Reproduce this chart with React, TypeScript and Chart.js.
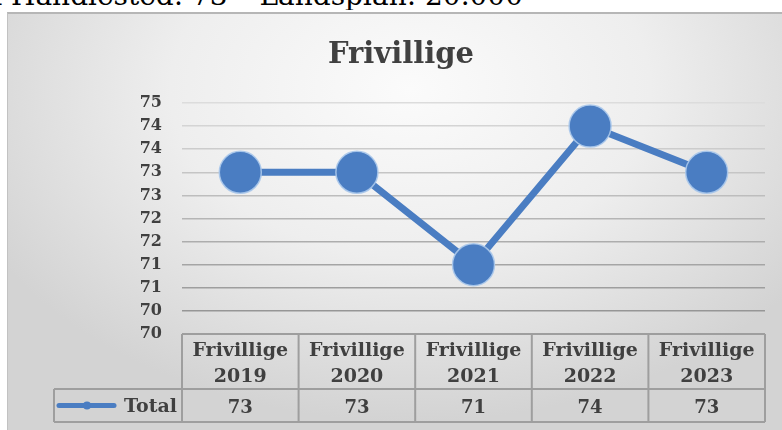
import React, { useEffect, useRef } from "react";
import { Chart, registerables } from "chart.js";

Chart.register(...registerables);

// ---- data ----
const headline = "Frivillige i Handlested: 73 – Landsplan: 20.000";
const chartTitle = "Frivillige";
const categoryPrefix = "Frivillige";
const years = ["2019", "2020", "2021", "2022", "2023"];
const seriesName = "Total";
const values = [73, 73, 71, 74, 73];
const yMin = 69.5;
const yMax = 74.5;
const yStep = 0.5;

const categories = years.map((y) => [categoryPrefix, y]);

// ---- styles ----
const BLUE = "#4a7dc2";
const TEXT = "#404040";
const FONT = "'DejaVu Serif', Georgia, serif";
const TABLE_LINE = "#9e9e9e";

const titlePlugin = {
  id: "titleText",
  afterDraw(chart: any) {
    const { ctx } = chart;
    ctx.save();
    ctx.font = `bold 29px ${FONT}`;
    ctx.fillStyle = TEXT;
    ctx.textAlign = "center";
    ctx.textBaseline = "alphabetic";
    ctx.fillText(chartTitle, 401, 63);
    ctx.restore();
  },
};

const tablePlugin = {
  id: "dataTable",
  afterDraw(chart: any) {
    const { ctx, chartArea } = chart;
    const xScale = chart.scales.x;
    const { left, right, bottom } = chartArea;
    const n = categories.length;
    const colW = (right - left) / n;
    const headTop = bottom;
    const headBot = bottom + 55;
    const rowBot = bottom + 88;
    const legendLeft = 54;

    const line = (x1: number, y1: number, x2: number, y2: number) => {
      ctx.beginPath();
      ctx.moveTo(x1, y1);
      ctx.lineTo(x2, y2);
      ctx.stroke();
    };

    ctx.save();
    ctx.strokeStyle = TABLE_LINE;
    ctx.lineWidth = 2;
    line(left, headTop, right, headTop);
    line(legendLeft, headBot, right, headBot);
    line(legendLeft, rowBot, right, rowBot);
    for (let i = 0; i <= n; i++) {
      const xx = left + i * colW;
      line(xx, headTop, xx, rowBot);
    }
    line(legendLeft, headBot, legendLeft, rowBot);

    ctx.fillStyle = TEXT;
    ctx.textAlign = "center";
    ctx.textBaseline = "alphabetic";
    for (let i = 0; i < n; i++) {
      const cx = xScale.getPixelForValue(i);
      ctx.font = `bold 19px ${FONT}`;
      ctx.fillText(categories[i][0], cx, bottom + 22);
      ctx.fillText(categories[i][1], cx, bottom + 48);
      ctx.font = `bold 18px ${FONT}`;
      ctx.fillText(String(values[i]), cx, bottom + 79);
    }

    // legend key
    const ly = (headBot + rowBot) / 2;
    ctx.strokeStyle = BLUE;
    ctx.lineWidth = 5;
    ctx.lineCap = "round";
    line(59, ly, 114, ly);
    ctx.fillStyle = BLUE;
    ctx.beginPath();
    ctx.arc(87, ly, 4, 0, Math.PI * 2);
    ctx.fill();

    ctx.fillStyle = TEXT;
    ctx.font = `bold 19px ${FONT}`;
    ctx.textAlign = "right";
    ctx.fillText(seriesName, 177, bottom + 78);
    ctx.restore();
  },
};

function ChartCanvas() {
  const ref = useRef<HTMLCanvasElement | null>(null);
  useEffect(() => {
    if (!ref.current) return;
    const chart = new Chart(ref.current, {
      type: "line",
      data: {
        labels: categories,
        datasets: [
          {
            label: seriesName,
            data: values,
            borderColor: BLUE,
            backgroundColor: BLUE,
            borderWidth: 7,
            pointRadius: 21,
            pointBackgroundColor: BLUE,
            pointBorderColor: "rgba(170,200,235,0.9)",
            pointBorderWidth: 1.5,
            tension: 0,
            clip: false,
          },
        ],
      },
      options: {
        responsive: false,
        animation: false,
        layout: { autoPadding: false, padding: { left: 0, right: 17, top: 103, bottom: 96 } },
        plugins: {
          legend: { display: false },
          title: { display: false },
          tooltip: { enabled: false },
        },
        scales: {
          x: {
            display: false,
            offset: true,
            ticks: { display: false },
            grid: { display: false },
            border: { display: false },
          },
          y: {
            min: yMin,
            max: yMax,
            afterFit: (s: any) => {
              s.width = 182;
            },
            ticks: {
              stepSize: yStep,
              padding: 20,
              color: TEXT,
              font: { family: FONT, size: 16, weight: "bold" },
              callback: (v: any) => String(Math.round(Number(v))),
            },
            grid: {
              drawTicks: false,
              lineWidth: 1.6,
              color: (c: any) => {
                const t = Math.min(1, Math.max(0, (c.index ?? 0) / 10));
                const g = Math.round(0x8e + (0xdc - 0x8e) * t);
                return `rgb(${g},${g},${g})`;
              },
            },
            border: { display: false },
          },
        },
      },
      plugins: [titlePlugin, tablePlugin],
    } as any);
    return () => chart.destroy();
  }, []);
  return (
    <canvas
      ref={ref}
      width={782}
      height={430}
      style={{ position: "absolute", left: 0, top: 0, width: 782, height: 430, display: "block" }}
    />
  );
}

export default function App() {
  return (
    <div style={{ position: "absolute", left: 0, top: 0, width: 782, height: 430, overflow: "hidden" }}>
      <div
        style={{
          position: "absolute",
          left: 0,
          width: 523,
          top: -18,
          fontFamily: FONT,
          fontSize: 28,
          lineHeight: "28px",
          color: "#000",
          whiteSpace: "nowrap",
          textAlign: "right",
          overflow: "hidden",
          direction: "rtl",
        }}
      >
        <span style={{ direction: "ltr", unicodeBidi: "embed" }}>{headline}</span>
      </div>
      <div
        style={{
          position: "absolute",
          left: 7,
          top: 12,
          width: 775,
          height: 418,
          boxSizing: "border-box",
          borderTop: "2px solid #b6b6b6",
          borderLeft: "1px solid #c2c2c2",
          background:
            "radial-gradient(ellipse 62% 80% at 52% 18%, #fbfbfb 0%, #eeeeee 50%, #d3d3d3 100%)",
        }}
      />
      <ChartCanvas />
    </div>
  );
}
